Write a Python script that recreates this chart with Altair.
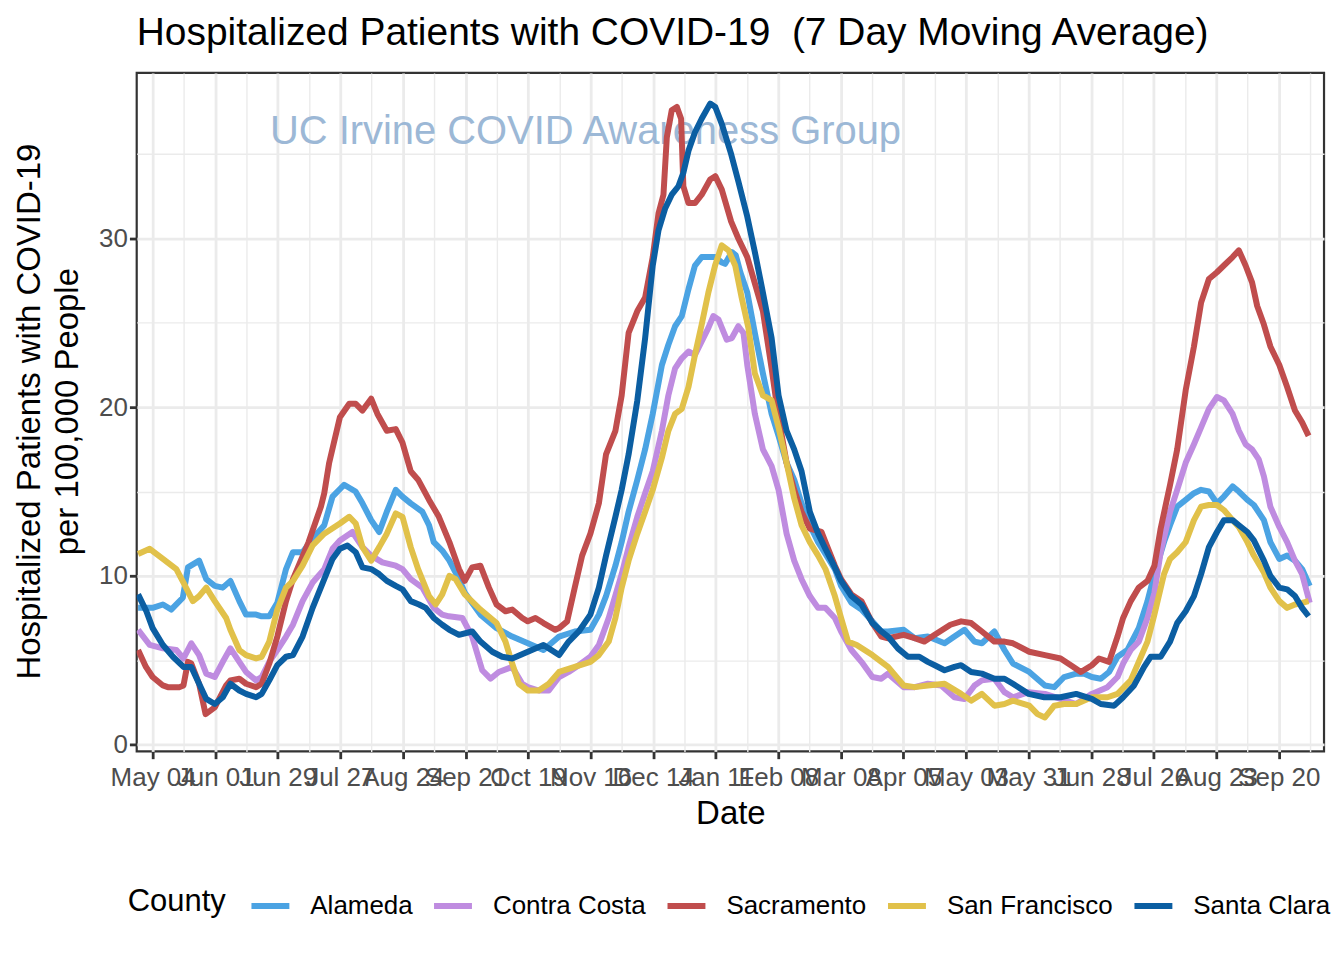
import altair as alt
import pandas as pd

FONT = "Liberation Sans"
START = "2020-05-04"  # day 0 of the day-offset arrays below

counties = ["Alameda", "Contra Costa", "Sacramento", "San Francisco", "Santa Clara"]
colors = ["#4BA3E3", "#BF8CE0", "#C04D4D", "#E1C14A", "#0B5EA2"]

# ---- Alameda ----
alameda_day = [-6.5, 0, 4.6, 8.3, 13.5, 15.8, 20.8, 24.0, 27.8, 31.4, 34.8, 38.8, 41.8, 46.3, 48.8, 52.2, 55.8, 59.7,
               62.8, 67.1, 71.6, 76.8, 80.5, 85.7, 90.8, 93.9, 97.8, 101.4, 104.8, 108.8, 111.8, 115.5, 120.7, 123.7,
               125.8, 129.6, 132.8, 137.1, 139.7, 146.7, 153.9, 160.9, 167.9, 174.9, 181.9, 188.9, 195.9, 199.7, 202.9,
               207.1, 209.9, 213.0, 216.9, 220.4, 223.8, 227.9, 230.8, 233.8, 236.8, 239.8, 242.7, 245.7, 248.7, 251.7,
               254.5, 256.2, 259.2, 261.0, 263.0, 266.1, 269.5, 273.1, 277.0, 280.1, 283.7, 287.1, 290.4, 294.1, 297.8,
               301.1, 305.3, 308.1, 312.7, 317.2, 322.1, 326.1, 329.1, 336.1, 341.0, 346.9, 354.4, 358.8, 363.3, 367.8,
               371.1, 376.7, 381.2, 385.0, 392.3, 399.3, 403.5, 407.9, 413.3, 416.9, 420.3, 424.3, 428.0, 431.8, 436.2,
               441.3, 445.2, 448.3, 452.6, 455.3, 458.5, 462.3, 466.0, 469.2, 472.7, 476.3, 479.4, 483.3, 486.1, 489.9,
               492.8, 497.3, 500.2, 504.2, 507.7, 511.2, 514.4, 517.8]
alameda_val = [8.1, 8.1, 8.3, 8.0, 8.7, 10.5, 10.9, 9.8, 9.4, 9.3, 9.7, 8.5, 7.7, 7.7, 7.6, 7.6, 8.4, 10.4,
               11.4, 11.4, 12.2, 13.0, 14.7, 15.4, 15.0, 14.3, 13.3, 12.6, 13.8, 15.1, 14.7, 14.3, 13.8, 13.0,
               12.0, 11.5, 10.9, 9.8, 9.0, 7.7, 6.9, 6.4, 6.0, 5.6, 6.4, 6.7, 6.8, 7.7, 8.8,
               10.6, 12.0, 13.8, 15.7, 17.5, 19.6, 22.5, 23.7, 24.8, 25.4, 27.0, 28.4, 28.9, 28.9, 28.9,
               28.6, 28.5, 29.2, 29.0, 28.0, 26.8, 24.4, 22.0, 19.6, 18.3, 16.7, 15.7, 14.3, 13.0, 12.0,
               11.3, 10.4, 9.4, 8.4, 8.0, 7.3, 6.7, 6.7, 6.8, 6.3, 6.4, 6.0, 6.4, 6.8, 6.1,
               6.0, 6.7, 5.6, 4.8, 4.3, 3.5, 3.4, 4.0, 4.2, 4.2, 4.0, 3.9, 4.3, 5.2, 5.6,
               6.9, 8.5, 10.1, 12.0, 13.0, 14.1, 14.5, 14.9, 15.1, 15.0, 14.3, 14.7, 15.3, 15.0, 14.5,
               14.2, 13.3, 12.0, 11.0, 11.2, 10.9, 10.4, 9.4]

# ---- Contra Costa ----
contra_costa_day = [-6.5, -1.3, 4.6, 10.6, 13.8, 17.3, 20.8, 24.0, 27.8, 31.4, 34.8, 38.8, 41.8, 46.3, 48.8, 52.2,
                    55.8, 59.7, 62.8, 67.1, 71.6, 76.8, 80.5, 83.8, 89.4, 93.9, 97.8, 102.8, 108.8, 111.8, 115.5,
                    120.7, 125.8, 129.6, 132.6, 138.6, 143.0, 147.5, 151.2, 154.9, 160.9, 165.4, 167.9, 172.8, 177.3,
                    181.9, 186.2, 190.7, 195.9, 199.7, 204.1, 209.9, 213.0, 216.9, 220.4, 223.8, 227.9, 230.8, 233.8,
                    236.8, 239.8, 242.7, 245.7, 248.7, 250.9, 253.2, 256.9, 259.2, 262.1, 264.4, 266.1, 269.5, 273.1,
                    277.0, 280.1, 283.7, 287.1, 290.4, 294.1, 297.8, 301.1, 305.3, 308.1, 312.7, 317.2, 322.1, 326.1,
                    329.1, 336.1, 341.0, 346.9, 352.9, 358.8, 363.3, 367.8, 371.1, 376.7, 381.2, 385.0, 392.0, 399.3,
                    406.3, 413.3, 420.3, 427.3, 431.8, 434.3, 437.7, 441.3, 445.2, 448.3, 451.1, 455.3, 458.5, 462.3,
                    466.0, 469.2, 472.7, 476.3, 479.4, 483.3, 486.1, 489.1, 492.0, 495.0, 497.3, 500.2, 504.2, 507.7,
                    511.2, 514.4, 517.8]
contra_costa_val = [6.8, 5.9, 5.7, 5.6, 5.1, 6.0, 5.3, 4.2, 4.0, 4.9, 5.7, 4.9, 4.3, 3.8, 4.0, 4.9,
                    5.6, 6.4, 7.1, 8.5, 9.6, 10.4, 11.6, 12.1, 12.6, 11.7, 11.2, 10.8, 10.6, 10.4, 9.8,
                    9.3, 8.1, 7.7, 7.6, 7.5, 6.4, 4.4, 3.9, 4.3, 4.6, 3.6, 3.4, 3.2, 3.2,
                    4.0, 4.3, 4.7, 5.2, 5.9, 7.5, 10.1, 11.7, 13.5, 14.9, 16.2, 18.6, 20.7, 22.3,
                    22.9, 23.3, 23.1, 23.9, 24.7, 25.4, 25.2, 24.0, 24.1, 24.8, 24.4, 22.5, 19.6, 17.5,
                    16.5, 15.1, 12.5, 10.9, 9.8, 8.8, 8.1, 8.1, 7.5, 6.7, 5.6, 4.9, 4.0, 3.9,
                    4.2, 3.4, 3.4, 3.6, 3.5, 2.8, 2.7, 3.5, 3.8, 3.9, 3.1, 2.8, 3.1, 3.0,
                    2.7, 2.4, 3.0, 3.4, 4.0, 4.8, 5.6, 6.1, 7.5, 9.0, 11.4, 13.8, 15.1, 16.7,
                    17.8, 18.8, 19.9, 20.6, 20.4, 19.6, 18.6, 17.8, 17.5, 16.9, 15.9, 14.1, 12.9, 12.0,
                    10.9, 10.1, 8.4]

# ---- Sacramento ----
sacramento_day = [-6.5, -3.0, 0, 4.6, 6.8, 12.1, 13.8, 15.8, 17.3, 20.8, 23.7, 27.8, 32.9, 34.8, 38.8, 41.8, 46.3,
                  48.8, 52.2, 55.8, 59.7, 62.8, 69.8, 75.3, 76.8, 79.0, 83.8, 88.0, 90.9, 93.9, 97.8, 100.6, 104.8,
                  108.8, 111.8, 115.5, 118.8, 123.7, 128.1, 132.8, 137.1, 139.7, 143.0, 146.7, 150.5, 153.9, 157.9,
                  160.9, 165.4, 167.9, 171.3, 174.9, 180.2, 181.9, 185.5, 188.9, 192.2, 195.9, 199.7, 202.9, 207.1,
                  209.9, 213.0, 216.9, 220.4, 223.8, 226.4, 228.6, 230.1, 232.3, 234.6, 236.5, 237.5, 239.8, 242.7,
                  245.7, 249.5, 251.8, 254.7, 258.9, 262.1, 266.1, 273.1, 277.0, 280.1, 283.7, 287.1, 290.4, 294.1,
                  299.3, 301.1, 305.3, 308.1, 312.7, 317.2, 322.1, 326.1, 329.1, 336.1, 341.0, 345.4, 350.0, 357.0,
                  361.8, 366.3, 371.1, 376.7, 381.2, 385.0, 392.3, 399.3, 406.3, 410.9, 415.4, 420.3, 423.5, 428.0,
                  431.8, 434.3, 437.7, 441.3, 445.2, 448.3, 451.1, 455.3, 458.5, 462.3, 466.0, 469.2, 472.7, 476.3,
                  479.4, 483.3, 486.1, 489.1, 492.0, 494.3, 497.3, 500.2, 504.2, 507.7, 511.2, 514.4, 517.3]
sacramento_val = [5.6, 4.6, 4.0, 3.5, 3.4, 3.4, 3.5, 4.9, 4.8, 3.6, 1.8, 2.2, 3.5, 3.8, 3.9, 3.6, 3.4,
                  3.6, 4.8, 6.4, 8.5, 9.8, 12.0, 14.1, 14.9, 16.7, 19.4, 20.2, 20.2, 19.8, 20.5, 19.6, 18.6,
                  18.7, 17.9, 16.2, 15.7, 14.5, 13.5, 12.0, 10.4, 9.7, 10.5, 10.6, 9.3, 8.3, 7.9,
                  8.0, 7.5, 7.3, 7.5, 7.2, 6.8, 6.9, 7.3, 9.3, 11.2, 12.5, 14.3, 17.2, 18.6,
                  20.7, 24.4, 25.7, 26.5, 28.9, 31.5, 32.6, 36.0, 37.6, 37.8, 37.1, 33.1, 32.1, 32.1,
                  32.6, 33.5, 33.7, 32.9, 31.0, 30.0, 28.9, 25.7, 22.3, 19.4, 16.7, 15.1, 13.8, 12.8,
                  12.6, 12.0, 10.6, 9.8, 8.9, 8.5, 7.2, 6.4, 6.3, 6.5, 6.3, 6.1, 6.5, 7.1,
                  7.3, 7.2, 6.7, 6.1, 6.1, 6.0, 5.5, 5.3, 5.1, 4.7, 4.3, 4.7, 5.1, 4.9,
                  6.4, 7.5, 8.5, 9.3, 9.7, 10.6, 12.8, 15.4, 17.5, 21.0, 23.6, 26.2, 27.6, 28.0,
                  28.4, 28.9, 29.3, 28.4, 27.4, 26.0, 24.9, 23.6, 22.5, 21.2, 19.8, 19.1, 18.3]

# ---- San Francisco ----
san_francisco_day = [-6.5, -1.3, 4.6, 10.6, 13.8, 18.0, 20.8, 24.0, 27.8, 32.9, 34.8, 38.8, 41.8, 46.3, 48.8, 52.2,
                     55.8, 59.7, 62.8, 67.1, 71.6, 76.8, 83.8, 88.0, 90.9, 93.9, 97.8, 101.4, 104.8, 108.8, 111.8,
                     115.5, 118.8, 123.7, 126.7, 129.6, 132.8, 135.6, 139.7, 146.7, 153.9, 157.9, 160.9, 163.9, 167.9,
                     172.8, 177.3, 181.9, 188.9, 195.9, 199.7, 204.1, 207.1, 209.9, 213.0, 216.9, 220.4, 223.8, 227.9,
                     230.8, 233.8, 236.8, 239.8, 242.7, 245.7, 248.7, 251.7, 254.7, 257.7, 260.7, 263.6, 266.6, 269.5,
                     273.1, 277.0, 280.1, 283.7, 287.1, 290.4, 294.1, 297.8, 301.1, 305.3, 308.1, 311.2, 315.1, 322.1,
                     329.1, 336.1, 341.0, 346.9, 354.4, 361.8, 366.3, 371.1, 376.7, 381.2, 385.0, 392.3, 396.0, 399.3,
                     403.5, 407.9, 413.3, 420.3, 427.3, 431.8, 437.7, 441.3, 445.2, 448.3, 452.6, 455.3, 458.5, 462.3,
                     466.0, 469.2, 472.7, 476.3, 479.4, 483.3, 486.1, 489.9, 492.8, 497.3, 500.2, 504.2, 507.7, 511.2,
                     514.4, 517.3]
san_francisco_val = [11.3, 11.6, 11.0, 10.4, 9.6, 8.5, 8.8, 9.3, 8.5, 7.5, 6.8, 5.6, 5.3, 5.1, 5.2, 6.1,
                     8.0, 9.3, 9.7, 10.6, 11.8, 12.5, 13.1, 13.5, 13.1, 11.7, 10.9, 11.7, 12.5, 13.7, 13.5,
                     11.7, 10.4, 8.8, 8.3, 8.9, 10.0, 9.8, 8.9, 8.0, 7.2, 6.1, 4.8, 3.6, 3.2,
                     3.2, 3.6, 4.3, 4.6, 4.9, 5.3, 6.1, 7.5, 9.3, 10.9, 12.5, 13.8, 15.1, 17.0,
                     18.6, 19.6, 19.9, 21.2, 23.1, 24.9, 26.8, 28.4, 29.6, 29.3, 28.4, 26.5, 24.7, 22.0,
                     20.7, 20.4, 18.8, 16.7, 14.6, 13.0, 12.0, 11.2, 10.4, 8.8, 7.5, 6.1, 5.9, 5.3,
                     4.6, 3.5, 3.4, 3.5, 3.6, 3.0, 2.6, 3.0, 2.3, 2.4, 2.6, 2.3, 1.8, 1.6,
                     2.3, 2.4, 2.4, 2.8, 2.8, 3.0, 3.8, 4.9, 6.1, 7.7, 10.1, 11.0, 11.4, 12.0,
                     13.3, 14.1, 14.2, 14.2, 13.9, 13.3, 12.9, 12.0, 11.2, 10.2, 9.3, 8.5, 8.1, 8.3,
                     8.4, 8.5]

# ---- Santa Clara ----
santa_clara_day = [-6.5, -2.8, 0, 4.6, 9.1, 13.8, 17.3, 20.8, 24.0, 27.8, 31.4, 34.8, 38.8, 41.8, 46.3, 48.8, 52.2,
                   55.8, 59.7, 62.8, 67.1, 71.6, 76.8, 80.5, 83.8, 87.2, 90.9, 93.9, 97.8, 101.4, 104.8, 108.8,
                   111.8, 115.5, 119.2, 122.2, 125.8, 129.6, 132.8, 137.1, 143.0, 146.7, 152.0, 156.4, 160.9, 167.9,
                   174.9, 181.9, 186.2, 190.7, 195.9, 199.7, 202.9, 207.1, 209.9, 213.0, 216.9, 220.4, 223.8, 226.4,
                   229.4, 232.3, 235.3, 237.5, 239.8, 242.7, 245.7, 249.5, 251.8, 254.7, 258.9, 262.1, 266.1, 269.5,
                   273.1, 277.0, 280.1, 283.7, 287.1, 290.4, 294.1, 297.8, 301.1, 305.3, 308.1, 312.7, 317.2, 322.1,
                   326.1, 329.1, 333.5, 338.0, 343.1, 346.9, 350.0, 354.4, 358.8, 361.8, 366.3, 371.1, 376.7, 381.2,
                   385.0, 392.0, 399.0, 406.3, 413.3, 420.3, 424.3, 430.3, 434.3, 439.2, 443.7, 446.6, 451.1, 455.3,
                   458.5, 462.3, 466.0, 469.2, 472.7, 476.3, 479.4, 483.3, 486.1, 489.9, 492.8, 497.3, 500.2, 504.2,
                   507.7, 511.2, 514.4, 517.3]
santa_clara_val = [8.9, 7.9, 6.9, 5.9, 5.2, 4.6, 4.6, 3.6, 2.7, 2.4, 2.8, 3.6, 3.2, 3.0, 2.8, 3.0, 3.8,
                   4.7, 5.2, 5.3, 6.4, 8.1, 9.8, 11.0, 11.6, 11.8, 11.4, 10.5, 10.4, 10.1, 9.7, 9.4,
                   9.2, 8.5, 8.3, 8.1, 7.5, 7.1, 6.8, 6.5, 6.7, 6.1, 5.5, 5.2, 5.1, 5.5,
                   5.9, 5.3, 6.1, 6.7, 7.7, 9.3, 11.2, 13.5, 15.1, 17.2, 20.4, 24.1, 28.4, 30.5,
                   31.8, 32.6, 33.1, 33.9, 35.2, 36.3, 37.1, 38.0, 37.8, 36.8, 35.0, 33.4, 31.3, 29.2,
                   26.8, 24.1, 20.7, 18.6, 17.5, 16.2, 13.8, 12.5, 11.6, 10.5, 9.7, 8.8, 8.3, 7.2,
                   6.7, 6.4, 5.7, 5.2, 5.2, 4.9, 4.7, 4.4, 4.6, 4.7, 4.3, 4.2, 3.9, 3.9,
                   3.6, 3.0, 2.8, 2.8, 3.0, 2.7, 2.4, 2.3, 2.8, 3.5, 4.6, 5.2, 5.2, 6.1,
                   7.2, 7.9, 8.8, 10.1, 11.7, 12.6, 13.3, 13.3, 13.0, 12.6, 12.1, 10.9, 10.0, 9.3,
                   9.2, 8.8, 8.1, 7.6]

# x-axis tick dates (labelled) and minor grid dates
major_ticks = ["2020-05-04", "2020-06-01", "2020-06-29", "2020-07-27", "2020-08-24", "2020-09-21", "2020-10-19",
               "2020-11-16", "2020-12-14", "2021-01-11", "2021-02-08", "2021-03-08", "2021-04-05", "2021-05-03",
               "2021-05-31", "2021-06-28", "2021-07-26", "2021-08-23", "2021-09-20"]
minor_ticks = ["2020-05-18", "2020-06-15", "2020-07-13", "2020-08-10", "2020-09-07", "2020-10-05", "2020-11-02",
               "2020-11-30", "2020-12-28", "2021-01-25", "2021-02-22", "2021-03-22", "2021-04-19", "2021-05-17",
               "2021-06-14", "2021-07-12", "2021-08-09", "2021-09-06", "2021-10-04"]
y_major = [0, 10, 20, 30]
y_minor = [5, 15, 25, 35]

annotation_text = "UC Irvine COVID Awareness Group"
annotation_day = 52.5
annotation_value = 35.6

series = {
    "Alameda": (alameda_day, alameda_val),
    "Contra Costa": (contra_costa_day, contra_costa_val),
    "Sacramento": (sacramento_day, sacramento_val),
    "San Francisco": (san_francisco_day, san_francisco_val),
    "Santa Clara": (santa_clara_day, santa_clara_val),
}

start = pd.Timestamp(START)
frames = []
for name in counties:
    days, vals = series[name]
    frames.append(pd.DataFrame({
        "date": start + pd.to_timedelta(days, unit="D"),
        "value": vals,
        "county": name,
    }))
df = pd.concat(frames, ignore_index=True)

ann_df = pd.DataFrame({
    "date": [start + pd.to_timedelta(annotation_day, unit="D")],
    "value": [annotation_value],
    "label": [annotation_text],
})


def dt(s, hours=0):
    y, m, d = (int(p) for p in s.split("-"))
    return alt.DateTime(year=y, month=m, date=d, hours=hours)


x_scale = alt.Scale(domain=[dt("2020-04-26", 21), dt("2021-10-10", 5)])
y_scale = alt.Scale(domain=[-0.41, 39.82], nice=False, zero=False)

GRID = "#ebebeb"
DARK = "#333333"

minor = alt.Chart(df).mark_line(opacity=0).encode(
    x=alt.X("date:T", scale=x_scale, axis=alt.Axis(
        values=[dt(s) for s in minor_ticks], orient="bottom", grid=True, gridColor=GRID, gridWidth=1.4,
        labels=False, ticks=False, domain=False, title=None)),
    y=alt.Y("value:Q", scale=y_scale, axis=alt.Axis(
        values=y_minor, orient="left", grid=True, gridColor=GRID, gridWidth=1.4,
        labels=False, ticks=False, domain=False, title=None)),
    detail="county:N",
)

note = alt.Chart(ann_df).mark_text(
    align="left", baseline="alphabetic", fontSize=40, font=FONT, color="#9CB8D6"
).encode(
    x=alt.X("date:T", scale=x_scale, axis=None),
    y=alt.Y("value:Q", scale=y_scale, axis=None),
    text="label:N",
)

lines = alt.Chart(df).mark_line(strokeWidth=6, strokeJoin="round", clip=True).encode(
    x=alt.X("date:T", scale=x_scale, axis=alt.Axis(
        values=[dt(s) for s in major_ticks], format="%b %d", orient="bottom",
        grid=True, gridColor=GRID, gridWidth=2.8,
        labelFont=FONT, labelFontSize=26, labelColor="#4d4d4d", labelOverlap=False, labelFlush=False,
        labelPadding=6, tickSize=7.3, tickWidth=2.8, tickColor=DARK, domain=False,
        title="Date", titleFont=FONT, titleFontSize=33, titleFontWeight="normal", titleColor="black",
        titleBaseline="alphabetic", titleY=72)),
    y=alt.Y("value:Q", scale=y_scale, axis=alt.Axis(
        values=y_major, orient="left", grid=True, gridColor=GRID, gridWidth=2.8,
        labelFont=FONT, labelFontSize=26, labelColor="#4d4d4d", labelPadding=2,
        tickSize=7.3, tickWidth=2.8, tickColor=DARK, domain=False,
        title=["Hospitalized Patients with COVID-19", "per 100,000 People"],
        titleFont=FONT, titleFontSize=33, titleFontWeight="normal", titleColor="black",
        titleLineHeight=38, titleAngle=270, titleAlign="center", titleBaseline="middle",
        titleX=-107, titleY=339)),
    color=alt.Color("county:N", scale=alt.Scale(domain=counties, range=colors), legend=alt.Legend(
        title="County", orient="none", legendX=-9, legendY=813, direction="horizontal",
        titleOrient="left", titleFont=FONT, titleFontSize=31, titleFontWeight="normal", titleColor="black",
        titlePadding=22, titleAnchor="middle", titleBaseline="middle",
        labelFont=FONT, labelFontSize=26, labelColor="black", labelLimit=400, labelOffset=18,
        columnPadding=9, symbolType="stroke", symbolSize=1444, symbolStrokeWidth=6)),
)

chart = alt.layer(minor, note, lines).resolve_axis(
    x="independent", y="independent"
).properties(
    width=1190,
    height=680,
    title=alt.TitleParams(
        text="Hospitalized Patients with COVID-19 \u00a0(7 Day Moving Average)",
        anchor="start", frame="group", font=FONT, fontSize=39, fontWeight="normal",
        color="black", baseline="alphabetic", offset=29, dy=40),
    autosize=alt.AutoSizeParams(type="none"),
    padding={"left": 129, "top": 64, "right": 12, "bottom": 200},
    background="white",
).configure_view(stroke=DARK, strokeWidth=2.2)

chart.save("out.html", embed_options={"renderer": "svg", "actions": False})
